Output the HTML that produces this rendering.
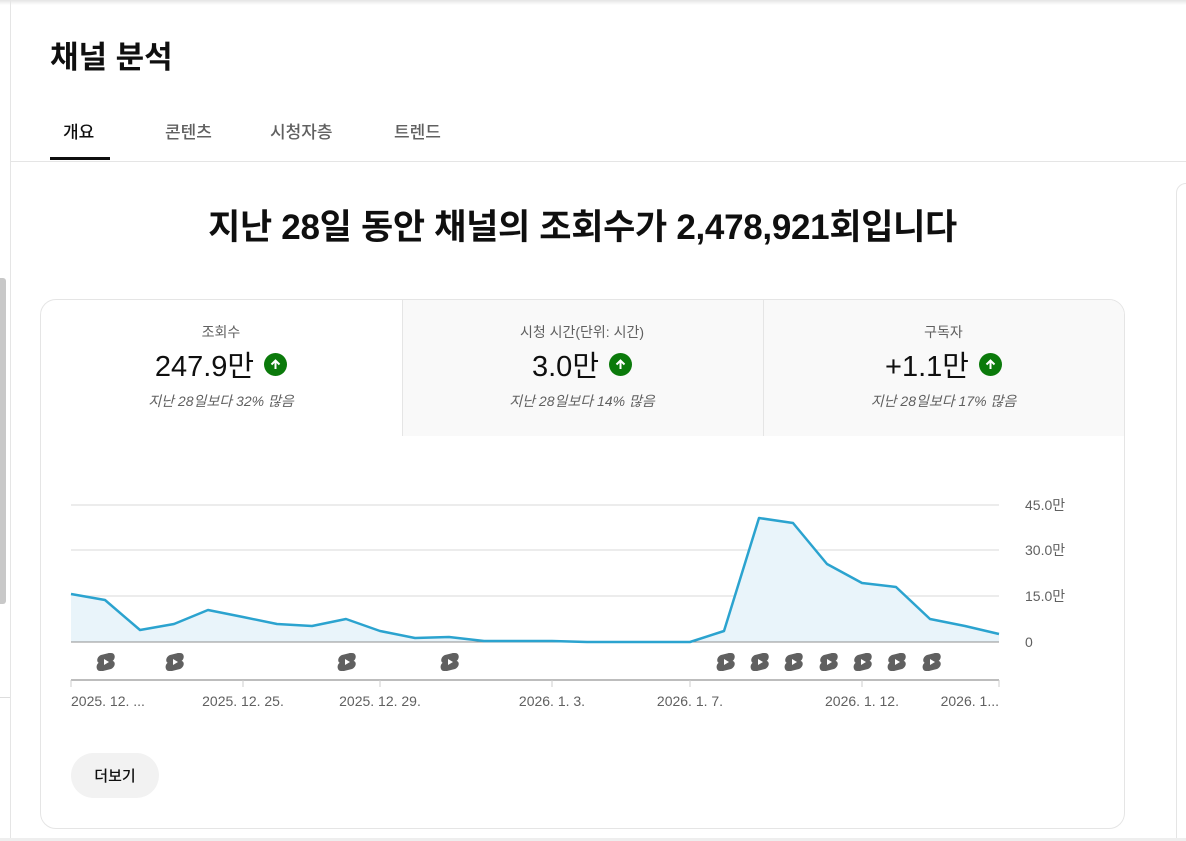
<!DOCTYPE html>
<html><head><meta charset="utf-8">
<style>
*{margin:0;padding:0;box-sizing:border-box}
html,body{width:1186px;height:841px;overflow:hidden}
body{background:#fff;font-family:"Liberation Sans","Noto Sans CJK KR",sans-serif;position:relative;color:#0f0f0f}
.abs{position:absolute}
.tab{position:absolute;top:118px;font-size:17px;color:#606060;font-weight:500}
.stat{position:absolute;top:300px;height:136px;text-align:center}
.stat .t{font-size:14px;color:#606060;margin-top:22px}
.stat .v{font-size:29px;margin-top:4px;height:36px;display:flex;justify-content:center;align-items:center;gap:10px}
.up{width:23px;height:23px;border-radius:50%;background:#0b7a0b;display:inline-flex;align-items:center;justify-content:center}
.stat .c{font-size:14px;font-style:italic;color:#606060;margin-top:9px}
</style></head><body>
<div class="abs" style="left:0;top:0;width:1186px;height:5px;background:linear-gradient(#e4e4e4,#fff)"></div>
<div class="abs" style="left:10px;top:0;width:1px;height:841px;background:#e5e5e5"></div>
<div class="abs" style="left:0;top:278px;width:6px;height:326px;background:#c8c8c8;border-radius:0 3px 3px 0"></div>
<div class="abs" style="left:0;top:697px;width:10px;height:1px;background:#ddd"></div>
<div class="abs" style="left:50px;top:32px;font-size:31px;font-weight:bold">채널 분석</div>
<div class="tab" style="left:63px;color:#0f0f0f">개요</div>
<div class="tab" style="left:165px">콘텐츠</div>
<div class="tab" style="left:270px">시청자층</div>
<div class="tab" style="left:394px">트렌드</div>
<div class="abs" style="left:50px;top:157px;width:60px;height:3px;background:#0f0f0f"></div>
<div class="abs" style="left:10px;top:161px;width:1176px;height:1px;background:#e5e5e5"></div>
<div class="abs" style="left:1176px;top:183px;width:20px;height:700px;border:1px solid #e5e5e5;border-radius:16px"></div>
<div class="abs" style="left:40px;top:199px;width:1085px;text-align:center;font-size:35px;font-weight:bold;letter-spacing:-0.3px">지난 28일 동안 채널의 조회수가 2,478,921회입니다</div>
<div class="abs" style="left:40px;top:299px;width:1085px;height:530px;border:1px solid #e5e5e5;border-radius:16px;overflow:hidden">
 <div class="abs" style="left:361px;top:0;width:724px;height:136px;background:#f9f9f9"></div>
 <div class="abs" style="left:361px;top:0;width:1px;height:136px;background:#e5e5e5"></div>
 <div class="abs" style="left:722px;top:0;width:1px;height:136px;background:#e5e5e5"></div>
</div>
<div class="stat" style="left:41px;width:360px"><div class="t">조회수</div><div class="v">247.9만<span class="up"><svg width="13" height="13" viewBox="0 0 13 13"><path d="M6.5 11V2.5M2.5 6.5L6.5 2.5L10.5 6.5" stroke="#fff" stroke-width="2" fill="none"/></svg></span></div><div class="c">지난 28일보다 32% 많음</div></div>
<div class="stat" style="left:402px;width:360px"><div class="t">시청 시간(단위: 시간)</div><div class="v">3.0만<span class="up"><svg width="13" height="13" viewBox="0 0 13 13"><path d="M6.5 11V2.5M2.5 6.5L6.5 2.5L10.5 6.5" stroke="#fff" stroke-width="2" fill="none"/></svg></span></div><div class="c">지난 28일보다 14% 많음</div></div>
<div class="stat" style="left:763px;width:361px"><div class="t">구독자</div><div class="v">+1.1만<span class="up"><svg width="13" height="13" viewBox="0 0 13 13"><path d="M6.5 11V2.5M2.5 6.5L6.5 2.5L10.5 6.5" stroke="#fff" stroke-width="2" fill="none"/></svg></span></div><div class="c">지난 28일보다 17% 많음</div></div>

<svg class="abs" style="left:0;top:0" width="1186" height="841">
<defs><g id="s"><path d="M-3 -9 L5 -9 C10 -9 10 -2 5 0 L-3 4 C-8 7 -6 9 -2 9 L-6 9 C-10 9 -11 2 -6 0 L3 -4 C7 -6 5 -9 1 -9Z" fill="#606060"/><path d="M-5 -7 C-10 -5 -10 2 -5 1 L4 -3 C9 -5 8 -9 3 -9Z" fill="#606060"/><path d="M5 7 C10 5 10 -2 5 -1 L-4 3 C-9 5 -8 9 -3 9Z" fill="#606060"/><path d="M-2 -3 L3 0 L-2 3Z" fill="#fff"/></g></defs>
<g stroke="#e5e5e5" stroke-width="1.5"><line x1="71" y1="505" x2="999" y2="505"/><line x1="71" y1="550" x2="999" y2="550"/><line x1="71" y1="596" x2="999" y2="596"/></g>
<path d="M71,594 L105,600 L140,630 L174,624 L208,610 L243,617 L277,624 L312,626 L346,619 L380,631 L415,638 L449,637 L484,641 L518,641 L552,641 L587,642 L621,642 L655,642 L690,642 L724,631 L759,518 L793,523 L827,564 L862,583 L896,587 L930,619 L965,626 L999,634 L999,642 L71,642Z" fill="#e9f4fa"/>
<line x1="71" y1="642" x2="999" y2="642" stroke="#909090" stroke-width="1"/>
<polyline points="71,594 105,600 140,630 174,624 208,610 243,617 277,624 312,626 346,619 380,631 415,638 449,637 484,641 518,641 552,641 587,642 621,642 655,642 690,642 724,631 759,518 793,523 827,564 862,583 896,587 930,619 965,626 999,634" fill="none" stroke="#2ba3cf" stroke-width="2.5" stroke-linejoin="round"/>
<g transform="translate(0,662)">
<use href="#s" x="106"/><use href="#s" x="175"/><use href="#s" x="347"/><use href="#s" x="450"/><use href="#s" x="726"/><use href="#s" x="760"/><use href="#s" x="794"/><use href="#s" x="829"/><use href="#s" x="863"/><use href="#s" x="897"/><use href="#s" x="932"/>
</g>
<line x1="71" y1="680" x2="999" y2="680" stroke="#bdbdbd" stroke-width="2"/>
<g stroke="#ccc" stroke-width="1"><line x1="71" y1="680" x2="71" y2="687"/><line x1="243" y1="680" x2="243" y2="687"/><line x1="380" y1="680" x2="380" y2="687"/><line x1="552" y1="680" x2="552" y2="687"/><line x1="690" y1="680" x2="690" y2="687"/><line x1="862" y1="680" x2="862" y2="687"/><line x1="999" y1="680" x2="999" y2="687"/></g>
<g font-family="Liberation Sans, Noto Sans CJK KR, sans-serif" font-size="14" fill="#606060">
<text x="71" y="706">2025. 12. ...</text>
<text x="243" y="706" text-anchor="middle">2025. 12. 25.</text>
<text x="380" y="706" text-anchor="middle">2025. 12. 29.</text>
<text x="552" y="706" text-anchor="middle">2026. 1. 3.</text>
<text x="690" y="706" text-anchor="middle">2026. 1. 7.</text>
<text x="862" y="706" text-anchor="middle">2026. 1. 12.</text>
<text x="999" y="706" text-anchor="end">2026. 1...</text>
<text x="1025" y="510">45.0만</text><text x="1025" y="555">30.0만</text><text x="1025" y="601">15.0만</text><text x="1025" y="647">0</text>
</g>
</svg>
<div class="abs" style="left:71px;top:753px;width:88px;height:45px;border-radius:23px;background:#f2f2f2;font-size:15px;font-weight:500;display:flex;align-items:center;justify-content:center">더보기</div>
<div class="abs" style="left:0;top:838px;width:1186px;height:3px;background:#eee"></div>
</body></html>
